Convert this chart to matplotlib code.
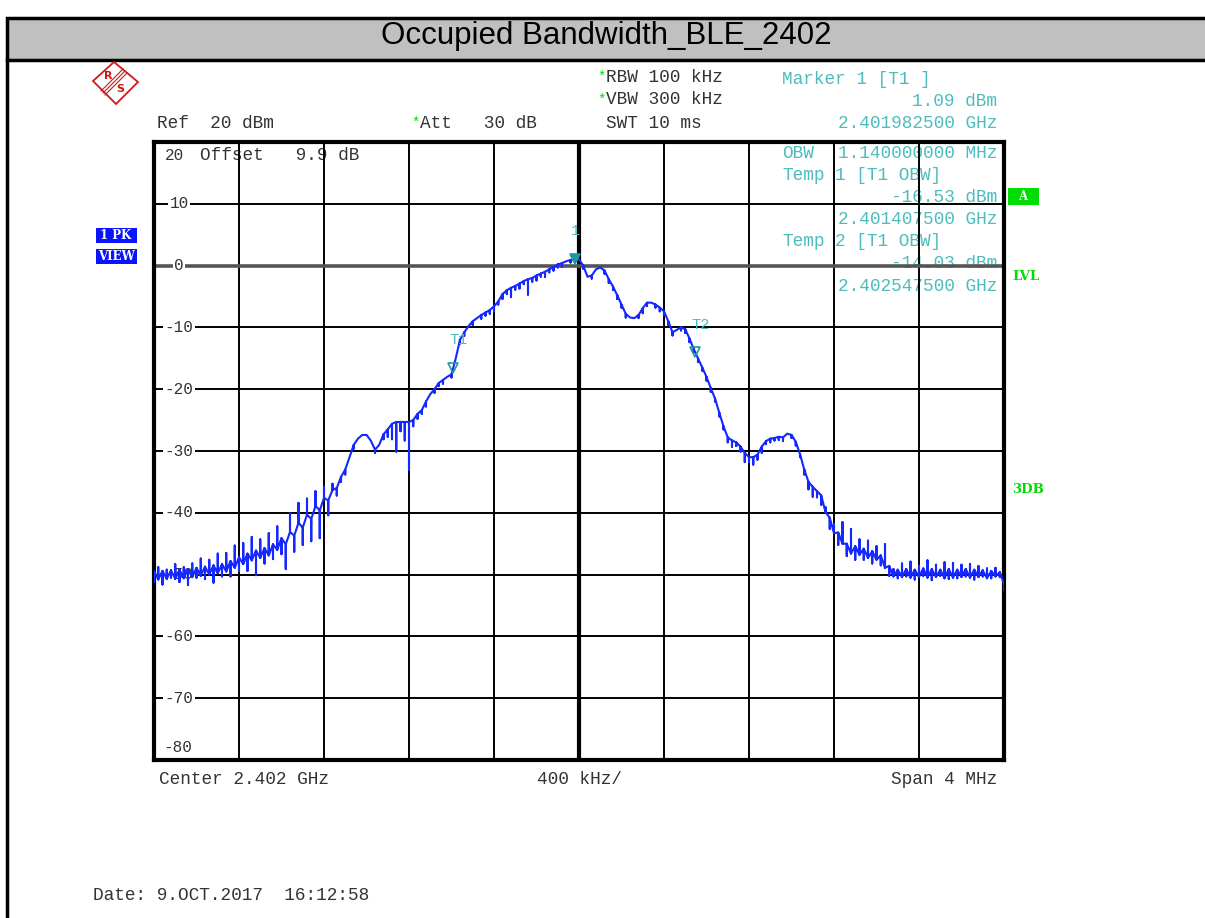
import numpy as np
import matplotlib
matplotlib.use("Agg")
import matplotlib.pyplot as plt
from matplotlib.patches import Rectangle, Polygon

# sweep: centre 2.402 GHz, span 4 MHz, 201 points (20 kHz apart)
f_start = 2.400
f_stop = 2.404
trace_db = [
    -49.4, -50.8, -49.4, -50.7, -49.3, -50.7, -49.2, -50.6, -49.1, -50.4,
    -48.9, -50.2, -48.7, -50.0, -48.5, -49.8, -48.3, -49.5, -47.8, -48.9,
    -47.2, -48.3, -46.6, -47.7, -46.1, -47.3, -45.7, -46.9, -45.1, -46.0,
    -44.1, -45.1, -43.1, -43.7, -41.6, -42.4, -40.3, -41.0, -38.9, -39.6,
    -37.6, -38.0, -36.3, -36.0, -34.2, -33.0, -31.0, -29.0, -28.0, -27.4,
    -27.4, -28.3, -29.8, -29.0, -27.3, -26.5, -25.6, -25.3, -25.3, -25.3,
    -25.3, -25.0, -24.0, -23.4, -22.0, -20.8, -20.0, -19.0, -18.5, -18.0,
    -17.6, -15.0, -12.0, -10.8, -9.8, -9.0, -8.5, -8.0, -7.6, -7.2,
    -6.6, -5.8, -4.6, -4.0, -3.6, -3.3, -2.9, -2.5, -2.2, -2.0,
    -1.6, -1.3, -1.0, -0.6, -0.2, 0.2, 0.4, 0.7, 0.9, 1.09,
    1.0, 0.0, -1.8, -1.6, -0.6, -0.3, -0.8, -2.2, -3.4, -4.8,
    -6.3, -7.8, -8.4, -8.5, -8.0, -6.9, -6.0, -6.0, -6.3, -6.8,
    -7.4, -9.0, -10.8, -10.4, -10.0, -10.3, -11.8, -13.5, -15.0, -16.5,
    -18.0, -19.8, -21.5, -23.8, -26.0, -27.8, -28.3, -28.6, -29.3, -30.3,
    -31.0, -31.0, -30.6, -29.3, -28.4, -28.0, -27.9, -27.7, -27.8, -27.2,
    -27.4, -28.5, -30.5, -33.0, -35.0, -35.8, -36.5, -37.2, -39.9, -40.8,
    -43.3, -43.2, -45.0, -45.0, -46.6, -45.4, -46.8, -45.8, -47.3, -46.2,
    -47.6, -46.9, -48.9, -48.6, -50.3, -49.2, -50.4, -49.1, -50.5, -49.2,
    -50.4, -49.0, -50.5, -49.1, -50.4, -49.2, -50.6, -49.1, -50.5, -49.2,
    -50.4, -49.1, -50.5, -49.2, -50.4, -49.3, -50.6, -49.4, -50.3, -49.6,
    -51.5,
]
# short vertical excursions of the peak detector at each point (dB)
spike_db = [
    -1.8, 2.0, -2.2, 1.5, -1.2, 2.4, -2.0, 1.8, -2.6, 2.2,
    -1.6, 2.8, -2.0, 2.4, -2.8, 3.2, -2.0, 3.0, -2.5, 3.6,
    -2.2, 3.4, -2.8, 3.8, -4.0, 3.0, -2.5, 3.6, -2.4, 3.8,
    -2.6, -4.0, 3.0, -2.6, 3.2, -2.8, 2.6, -3.6, 2.4, -4.5,
    1.8, -2.4, 1.0, -1.2, -0.8, -0.8, 0, -0.6, 0, 0,
    0, 0, -0.5, 0, -0.8, -1.2, -2.5, -4.8, -1.5, -3.0,
    -7.8, -1.0, -0.8, -0.6, -0.8, 0, -0.6, -0.5, -0.6, 0,
    -0.5, 0, -0.6, -0.6, 0, -0.6, 0, -0.6, -0.5, -0.6,
    -0.8, -0.5, -0.8, -0.6, -1.5, -0.6, -0.8, -0.5, -2.5, -0.6,
    -0.8, -0.5, -0.8, -0.5, -0.6, -0.5, -0.6, 0, -0.4, 0,
    0, -0.5, 0, -0.5, 0, 0, -0.5, -0.6, -0.5, -0.6,
    -0.5, -0.6, 0, 0, -0.5, -0.8, -0.5, 0, -0.5, -0.6,
    -0.5, -0.6, -0.5, 0, -0.5, -0.6, -0.6, -0.5, -0.6, -0.5,
    -0.6, -0.6, -0.5, -0.6, -0.5, -0.8, -1.0, -0.6, -0.8, -1.5,
    -0.8, -1.2, -0.8, -1.0, -0.5, -0.6, -0.4, -0.5, -0.6, 0,
    -0.5, -0.6, -0.5, -0.8, -1.2, -1.6, -1.0, -1.5, 0.8, -1.8,
    1.5, -2.0, 3.5, -2.0, 4.0, -2.2, 2.5, -1.8, 2.8, -2.0,
    2.2, -1.6, 3.8, -1.6, 1.2, -1.4, 2.2, -1.2, 2.6, -1.6,
    1.8, -1.2, 2.8, -1.8, 2.0, -1.0, 2.6, -1.6, 2.4, -1.4,
    2.0, -1.2, 2.2, -1.6, 1.8, -1.0, 1.6, -1.2, 1.4, -0.8,
    -1.0,
]

# markers: (freq GHz, level dBm, label, filled)
marker_f = [2.4019825, 2.4014075, 2.4025475]
marker_db = [1.09, -16.53, -14.03]
marker_lbl = ["1", "T1", "T2"]
marker_filled = [True, False, False]

y_ticks = [20, 10, 0, -10, -20, -30, -40, -50, -60, -70, -80]

W, H = 1205, 918
mono = "Liberation Mono"
grey_txt = "#333333"
cyan = "#4cbcbc"
green = "#00dd00"


def fx(x):
    return x / W


def fy(y):
    return 1 - y / H


fig = plt.figure(figsize=(W / 100, H / 100), dpi=100)

# title bar and outer frame
fig.patches.append(Rectangle((fx(7), fy(60)), fx(1203), (60 - 18) / H,
                             transform=fig.transFigure, facecolor="#c0c0c0",
                             edgecolor="black", linewidth=2.5))
fig.lines.append(plt.Line2D([fx(7), fx(7)], [fy(60), 0], transform=fig.transFigure,
                            color="black", linewidth=2.5))
fig.text(fx(606), fy(36), "Occupied Bandwidth_BLE_2402", ha="center", va="center",
         fontsize=22.5, family="Liberation Sans", color="black")

# R&S logo
red = "#cc1a1a"
fig.patches.append(Polygon([(fx(93), fy(81)), (fx(114), fy(62)), (fx(138), fy(82)), (fx(116), fy(104))],
                           closed=True, transform=fig.transFigure, fill=False,
                           edgecolor=red, linewidth=1.3))
for d in (-2, 0, 2):
    fig.lines.append(plt.Line2D([fx(103 + d), fx(125 + d)], [fy(93 + d), fy(71 + d)],
                                transform=fig.transFigure, color=red, linewidth=0.8))
fig.text(fx(108), fy(76), "R", ha="center", va="center", fontsize=8, color=red,
         family="DejaVu Sans", fontweight="bold")
fig.text(fx(120), fy(89), "S", ha="center", va="center", fontsize=8, color=red,
         family="DejaVu Sans", fontweight="bold")

ax = fig.add_axes([fx(154), fy(760), fx(850), (760 - 142) / H])
ax.set_xlim(f_start, f_stop)
ax.set_ylim(-80, 20)
ax.set_xticks([])
ax.set_yticks([])
for s in ax.spines.values():
    s.set_linewidth(3)
    s.set_color("black")

# graticule
x_grid = np.linspace(f_start, f_stop, 11)
for i, xv in enumerate(x_grid[1:-1]):
    ax.axvline(xv, color="black", linewidth=3 if i == 4 else 1.4, zorder=2)
for yv in y_ticks[1:-1]:
    if yv == 0:
        ax.axhline(yv, color="#555555", linewidth=2.6, zorder=2)
    else:
        ax.axhline(yv, color="black", linewidth=1.4, zorder=2)

# y labels
ylab_tr = matplotlib.transforms.blended_transform_factory(fig.transFigure, ax.transData)
for yv in y_ticks:
    if yv == 20:
        ax.text(fx(165), fy(155), "20", transform=fig.transFigure, fontsize=11.5,
                family=mono, color=grey_txt, va="center", zorder=1)
    elif yv == -80:
        ax.text(fx(163), fy(748), "-80", transform=fig.transFigure, fontsize=11.5,
                family=mono, color=grey_txt, va="center", zorder=1)
    else:
        ax.text(fx(179), yv, str(yv), transform=ylab_tr,
                fontsize=11.5, family=mono, color=grey_txt, va="center", ha="center", zorder=3,
                bbox=dict(facecolor="white", edgecolor="none", pad=1.0))


# text drawn inside the graticule, beneath the grid lines
def in_txt(x, y, s, color, ha="left"):
    ax.text(fx(x), fy(y), s, transform=fig.transFigure, fontsize=12.8, family=mono,
            color=color, ha=ha, va="center", zorder=1, clip_on=False)


in_txt(200, 155, "Offset   9.9 dB", grey_txt)
in_txt(782, 153, "OBW", cyan)
in_txt(997, 153, "1.140000000 MHz", cyan, ha="right")
in_txt(782, 175, "Temp", cyan)
in_txt(835, 175, "1 [T1 OBW]", cyan)
in_txt(997, 197, "-16.53 dBm", cyan, ha="right")
in_txt(997, 219, "2.401407500 GHz", cyan, ha="right")
in_txt(782, 241, "Temp", cyan)
in_txt(835, 241, "2 [T1 OBW]", cyan)
in_txt(997, 264, "-14.03 dBm", cyan, ha="right")
in_txt(997, 286, "2.402547500 GHz", cyan, ha="right")

# trace
freqs = np.linspace(f_start, f_stop, len(trace_db))
tx, ty = [], []
for f, lv, sp in zip(freqs, trace_db, spike_db):
    tx.append(f)
    ty.append(lv)
    if sp != 0:
        tx += [f, f]
        ty += [lv + sp, lv]
ax.plot(tx, ty, color="#1428ff", linewidth=1.5, zorder=4)

# markers
for mf, md, ml, filled in zip(marker_f, marker_db, marker_lbl, marker_filled):
    ax.plot([mf], [md], marker="v", markersize=7, linestyle="none", zorder=5,
            markeredgewidth=1.2, color="#1a9a9a",
            markerfacecolor="#1a9a9a" if filled else "none")
    ax.annotate(ml, (mf, md), xytext=(4 if ml != "1" else 0, 20), textcoords="offset points",
                ha="center", va="center", fontsize=11, family=mono, color=cyan, zorder=5)


# header text
def top_txt(x, y, s, color=grey_txt, ha="left", size=12.8):
    fig.text(fx(x), fy(y), s, fontsize=size, family=mono, color=color, ha=ha, va="center")


top_txt(597, 77, "*", green, size=10)
top_txt(606, 77, "RBW 100 kHz")
top_txt(597, 100, "*", green, size=10)
top_txt(606, 100, "VBW 300 kHz")
top_txt(606, 123, "SWT 10 ms")
top_txt(411, 123, "*", green, size=10)
top_txt(420, 123, "Att   30 dB")
top_txt(157, 123, "Ref  20 dBm")
top_txt(782, 79, "Marker 1 [T1 ]", cyan)
top_txt(997, 101, "1.09 dBm", cyan, ha="right")
top_txt(997, 123, "2.401982500 GHz", cyan, ha="right")

top_txt(159, 779, "Center 2.402 GHz")
top_txt(537, 779, "400 kHz/")
top_txt(997, 779, "Span 4 MHz", ha="right")
top_txt(93, 895, "Date: 9.OCT.2017  16:12:58")

# side annotations
fig.patches.append(Rectangle((fx(1008), fy(205)), fx(31), 17 / H, transform=fig.transFigure,
                             facecolor=green, edgecolor="none"))
fig.text(fx(1023), fy(197), "A", ha="center", va="center", fontsize=8.5, color="white",
         fontweight="bold", family="DejaVu Serif")
fig.text(fx(1012), fy(277), "LVL", ha="left", va="center", fontsize=9.5, color=green,
         fontweight="bold", family="DejaVu Serif")
fig.text(fx(1012), fy(490), "3DB", ha="left", va="center", fontsize=9.5, color=green,
         fontweight="bold", family="DejaVu Serif")
for y0, lbl in ((243, "1 PK"), (264, "VIEW")):
    fig.patches.append(Rectangle((fx(96), fy(y0)), fx(41), 15 / H, transform=fig.transFigure,
                                 facecolor="#0a14ff", edgecolor="none"))
    fig.text(fx(116), fy(y0 - 7.5), lbl, ha="center", va="center", fontsize=8.5, color="white",
             fontweight="bold", family="DejaVu Serif")

fig.savefig("out.png", dpi=100)
